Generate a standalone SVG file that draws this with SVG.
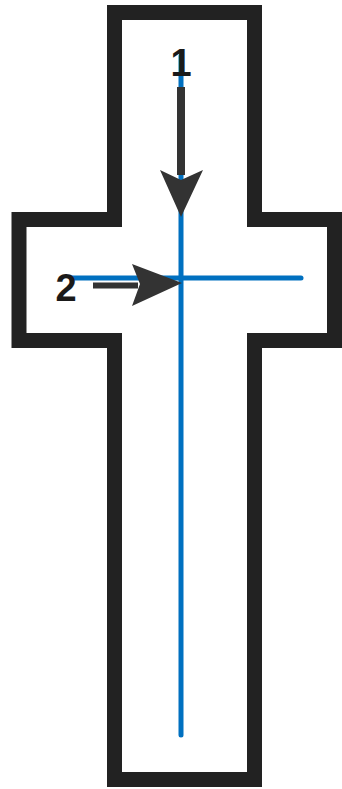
<svg xmlns="http://www.w3.org/2000/svg" width="342" height="789" viewBox="0 0 342 789">
<style>
.outline{fill:#fff;stroke:#222;stroke-width:15;stroke-linejoin:miter}
.blue{stroke:#0070c0;stroke-width:5;stroke-linecap:round;fill:none}
.shaft{stroke:#333;fill:none}
.head{fill:#333}
.lbl{font-family:"Liberation Sans",Arial,sans-serif;font-weight:bold;font-size:38px;fill:#1a1a1a;text-anchor:middle}
</style>
<rect width="342" height="789" fill="#fff"/>
<g id="cross">
<path class="outline" d="M114.5,12.5 H254.5 V219.5 H334.5 V340.5 H254.5 V779.5 H114.5 V340.5 H19 V219.5 H114.5 Z"/>
</g>
<g id="lines">
<line class="blue" x1="181" y1="56" x2="181" y2="735"/>
<line class="blue" x1="72" y1="278" x2="301" y2="278"/>
</g>
<g id="connectors">
<line class="shaft" x1="181" y1="87" x2="181" y2="175" stroke-width="8"/>
<path class="head" d="M160,170 L181,180 L203,170 L181,217 Z"/>
<line class="shaft" x1="93" y1="285.5" x2="138" y2="285.5" stroke-width="6"/>
<path class="head" d="M132,264 L140,284 L132,306 L182,283 Z"/>
</g>
<g id="label1"><text class="lbl" x="181" y="76">1</text></g>
<g id="label2"><text class="lbl" x="66" y="301">2</text></g>
</svg>
